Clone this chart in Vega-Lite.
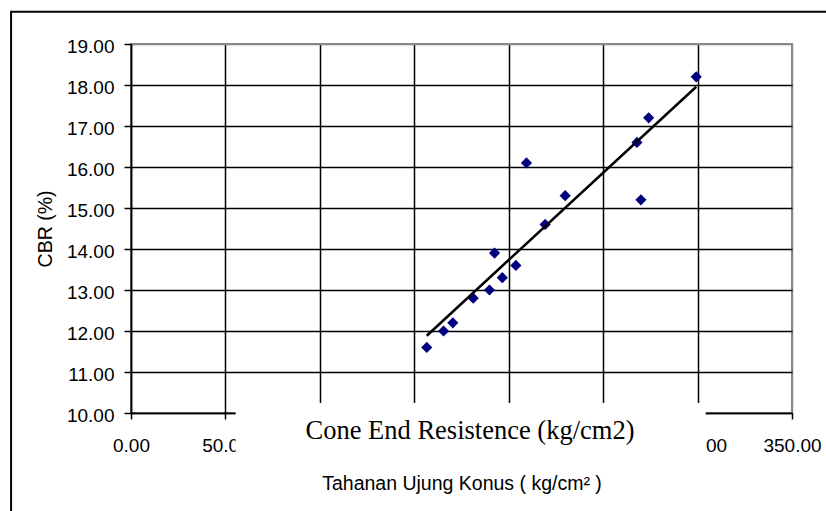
{
  "$schema": "https://vega.github.io/schema/vega-lite/v6.json",
  "width": 661,
  "height": 369,
  "autosize": {"type": "none"},
  "padding": {"left": 131, "top": 44, "right": 34, "bottom": 98},
  "background": "white",
  "config": {
    "view": {"stroke": "#888888", "strokeWidth": 2},
    "font": "Liberation Sans",
    "axis": {
      "labelFont": "Liberation Sans",
      "titleFont": "Liberation Sans",
      "labelColor": "black",
      "titleColor": "black",
      "tickColor": "black",
      "domainColor": "black",
      "domainWidth": 1.5,
      "tickWidth": 1.5,
      "gridWidth": 1.5,
      "gridOpacity": 1,
      "labelFontSize": 19,
      "titleFontSize": 19.5,
      "titleFontWeight": "normal",
      "labelOverlap": false,
      "labelFlush": false
    }
  },
  "data": {
    "values": [
      {"q": 156.6, "cbr": 11.6},
      {"q": 165.5, "cbr": 12.0},
      {"q": 170.4, "cbr": 12.2},
      {"q": 181.2, "cbr": 12.8},
      {"q": 189.8, "cbr": 13.0},
      {"q": 192.5, "cbr": 13.9},
      {"q": 196.6, "cbr": 13.3},
      {"q": 203.8, "cbr": 13.6},
      {"q": 209.4, "cbr": 16.1},
      {"q": 219.3, "cbr": 14.6},
      {"q": 229.9, "cbr": 15.3},
      {"q": 270.0, "cbr": 15.2},
      {"q": 267.9, "cbr": 16.6},
      {"q": 274.1, "cbr": 17.2},
      {"q": 299.3, "cbr": 18.2}
    ]
  },
  "layer": [
    {
      "mark": {"type": "point", "shape": "diamond", "filled": true, "color": "#000080", "size": 125, "opacity": 1},
      "encoding": {
        "x": {
          "field": "q",
          "type": "quantitative",
          "scale": {"domain": [0, 350], "nice": false, "zero": false},
          "axis": {
            "values": [0, 50, 100, 150, 200, 250, 300, 350],
            "labelExpr": "datum.value >= 100 && datum.value <= 250 ? '' : format(datum.value, '.2f')",
            "tickSize": 6,
            "labelPadding": 17,
            "title": "Tahanan Ujung Konus ( kg/cm² )",
            "titleY": 76,
            "titleBaseline": "alphabetic",
            "grid": true,
            "gridColor": {"condition": {"test": "datum.value === 350", "value": "#888888"}, "value": "black"}
          }
        },
        "y": {
          "field": "cbr",
          "type": "quantitative",
          "scale": {"domain": [10, 19], "nice": false, "zero": false},
          "axis": {
            "values": [10, 11, 12, 13, 14, 15, 16, 17, 18, 19],
            "format": ".2f",
            "tickSize": 7,
            "labelPadding": 10,
            "labelOffset": 2,
            "title": "CBR (%)",
            "titleX": -79.5,
            "titleBaseline": "alphabetic",
            "grid": true,
            "gridColor": {"condition": {"test": "datum.value === 19", "value": "#888888"}, "value": "black"}
          }
        }
      }
    },
    {
      "transform": [{"regression": "cbr", "on": "q"}],
      "mark": {"type": "line", "color": "black", "strokeWidth": 2.5},
      "encoding": {
        "x": {"field": "q", "type": "quantitative"},
        "y": {"field": "cbr", "type": "quantitative"}
      }
    },
    {
      "data": {"values": [{}]},
      "mark": {"type": "rect", "fill": "white", "strokeWidth": 0},
      "encoding": {
        "x": {"datum": 55.4, "type": "quantitative"},
        "x2": {"datum": 304.3},
        "y": {"datum": 10.244, "type": "quantitative"},
        "y2": {"datum": 8.73}
      }
    },
    {
      "data": {"values": [{"label": "Cone End Resistence (kg/cm2)"}]},
      "mark": {"type": "text", "font": "Liberation Serif", "fontSize": 26.5, "align": "center", "baseline": "alphabetic", "color": "black"},
      "encoding": {
        "text": {"field": "label"},
        "x": {"datum": 179.5, "type": "quantitative"},
        "y": {"datum": 9.378, "type": "quantitative"}
      }
    },
    {
      "data": {"values": [{}]},
      "mark": {"type": "rect", "fill": "transparent", "stroke": "black", "strokeWidth": 2},
      "encoding": {
        "x": {"datum": -63.5, "type": "quantitative"},
        "x2": {"datum": 380},
        "y": {"datum": 19.785, "type": "quantitative"},
        "y2": {"datum": 7.0}
      }
    }
  ]
}
